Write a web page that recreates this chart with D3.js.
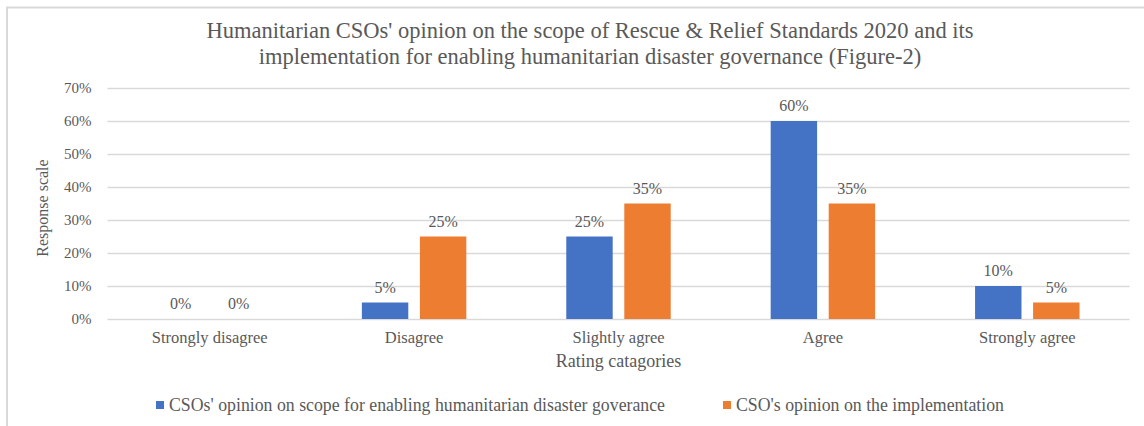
<!DOCTYPE html>
<html>
<head>
<meta charset="utf-8">
<script src="https://cdn.jsdelivr.net/npm/d3@7"></script>
<style>
  html, body { margin: 0; padding: 0; background: #fff; }
  svg { display: block; }
  svg text { font-family: "Liberation Serif", "Times New Roman", serif; }
</style>
</head>
<body>
<svg id="chart" width="1144" height="426"></svg>
<script>
const titleLines = [
  "Humanitarian CSOs' opinion on the scope of Rescue & Relief Standards 2020 and its",
  "implementation for enabling humanitarian disaster governance (Figure-2)"
];
const categories = ["Strongly disagree", "Disagree", "Slightly agree", "Agree", "Strongly agree"];
const seriesNames = [
  "CSOs' opinion on scope for enabling humanitarian disaster goverance",
  "CSO's opinion on the implementation"
];
const scopeValues = [0, 0.05, 0.25, 0.60, 0.10];
const implementationValues = [0, 0.25, 0.35, 0.35, 0.05];
const yTicks = [0, 0.1, 0.2, 0.3, 0.4, 0.5, 0.6, 0.7];
const xAxisTitle = "Rating catagories";
const yAxisTitle = "Response scale";
const colors = ["#4472C4", "#ED7D31"];

const svg = d3.select("#chart");
const textColor = "#595959";
const gridColor = "#D9D9D9";
const serif = '"Liberation Serif", "Times New Roman", serif';

// Outer frame (only top & left visible)
svg.append("rect")
  .attr("x", 7).attr("y", 7.5)
  .attr("width", 1160).attr("height", 440)
  .attr("fill", "none").attr("stroke", "#D9D9D9").attr("stroke-width", 2);

const plot = { left: 107.5, right: 1129.5, top: 88, bottom: 319 };

const series = [scopeValues, implementationValues];
const data = categories.map((c, i) => ({ cat: c, vals: series.map(s => s[i]) }));

const x0 = d3.scaleBand().domain(categories)
  .range([plot.left, plot.right]).paddingInner(0.489).paddingOuter(0.2445);
const x1 = d3.scaleBand().domain([0, 1]).range([0, x0.bandwidth()]).paddingInner(0.2).paddingOuter(0);
const y = d3.scaleLinear().domain([0, 0.7]).range([plot.bottom, plot.top]);
const fmt = d3.format(".0%");

// Grid lines + y tick labels
const yAxis = d3.axisLeft(y).tickValues(yTicks).tickFormat(fmt)
  .tickSize(-(plot.right - plot.left)).tickPadding(16);
const gy = svg.append("g").attr("transform", `translate(${plot.left},0)`).call(yAxis)
  .attr("font-family", serif);
gy.select(".domain").remove();
gy.selectAll(".tick line").attr("stroke", gridColor).attr("stroke-width", 1.3);
gy.selectAll(".tick text")
  .attr("fill", textColor).attr("font-size", 15);

// Bars
const groups = svg.append("g").selectAll("g").data(data).join("g")
  .attr("transform", d => `translate(${x0(d.cat)},0)`);
groups.selectAll("rect").data(d => d.vals.map((v, i) => ({ v, i }))).join("rect")
  .attr("x", d => x1(d.i))
  .attr("width", x1.bandwidth())
  .attr("y", d => y(d.v))
  .attr("height", d => y(0) - y(d.v))
  .attr("fill", d => colors[d.i]);
groups.selectAll("text.lbl").data(d => d.vals.map((v, i) => ({ v, i }))).join("text")
  .attr("class", "lbl")
  .attr("x", d => x1(d.i) + x1.bandwidth() / 2)
  .attr("y", d => y(d.v) - 10)
  .attr("text-anchor", "middle")
  .attr("font-size", 16)
  .attr("fill", textColor)
  .text(d => fmt(d.v));

// Category axis labels
const xAxis = d3.axisBottom(x0).tickSize(0).tickPadding(0);
const gx = svg.append("g").attr("transform", `translate(0,${plot.bottom})`).call(xAxis)
  .attr("font-family", serif);
gx.select(".domain").remove();
gx.selectAll(".tick text")
  .attr("y", 24).attr("dy", 0)
  .attr("fill", textColor).attr("font-size", 16.5);

// Axis titles
svg.append("text")
  .attr("x", (plot.left + plot.right) / 2).attr("y", 367)
  .attr("text-anchor", "middle").attr("font-size", 18)
  .attr("fill", textColor).text(xAxisTitle);
svg.append("text")
  .attr("transform", "translate(48,208) rotate(-90)")
  .attr("text-anchor", "middle").attr("font-size", 16)
  .attr("fill", textColor).text(yAxisTitle);

// Title
svg.append("g").selectAll("text").data(titleLines).join("text")
  .attr("x", 590).attr("y", (d, i) => 38 + i * 26)
  .attr("text-anchor", "middle").attr("font-size", 22.5)
  .attr("fill", textColor).text(d => d);

// Legend
const legendX = [156, 723];
const lg = svg.append("g").selectAll("g").data(seriesNames).join("g")
  .attr("transform", (d, i) => `translate(${legendX[i]},0)`);
lg.append("rect").attr("x", 0).attr("y", 401).attr("width", 8).attr("height", 8)
  .attr("fill", (d, i) => colors[i]);
lg.append("text").attr("x", 13).attr("y", 411)
  .attr("font-size", 17.8).attr("fill", textColor).text(d => d);
</script>
</body>
</html>
